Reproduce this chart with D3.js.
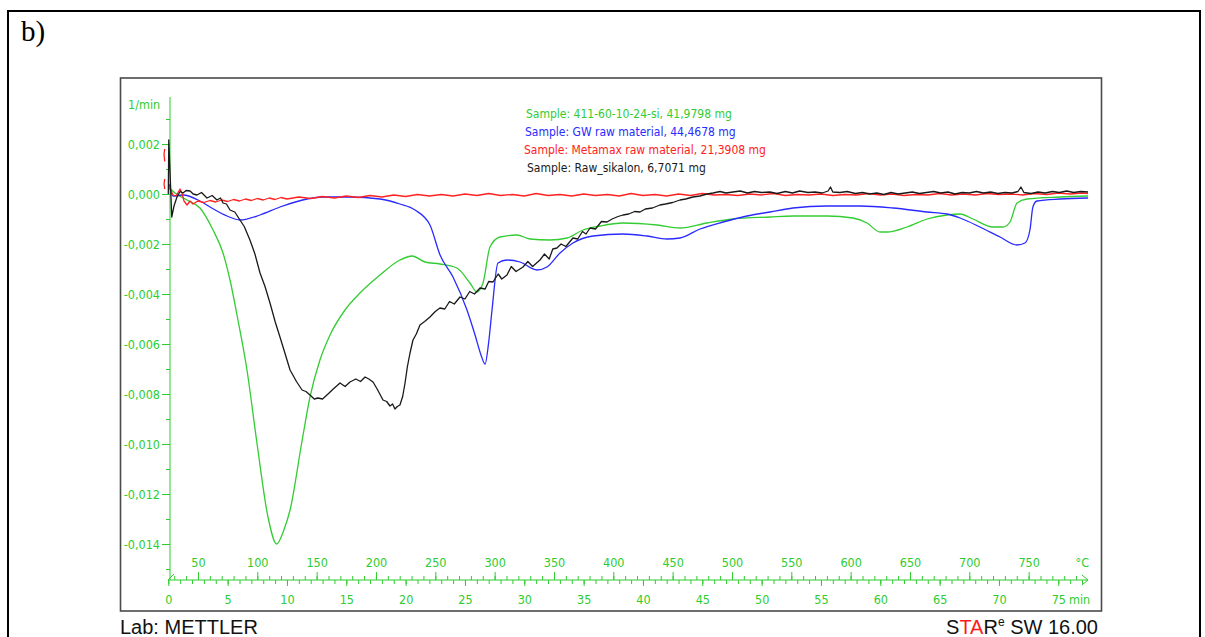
<!DOCTYPE html>
<html>
<head>
<meta charset="utf-8">
<script src="https://cdn.jsdelivr.net/npm/d3@7"></script>
<style>
  body { margin: 0; background: #fff; }
  .tick text { font-family: "DejaVu Sans Condensed", "DejaVu Sans"; font-stretch: condensed; }
</style>
</head>
<body>
<div id="canvas"></div>
<script>
"use strict"

/* Configuration variables: drawing */
let svgWidth = 1205;
let svgHeight = 637;
let axisGreen = "#2ecc2e";
let smallFont = "'DejaVu Sans Condensed', 'DejaVu Sans'";

/* Data: [time in min, DTG signal in 1/min] */
let greenSeries = [
    [0, 0.0003], [0.56, 0.00004], [1.58, -0.00024], [2.67, -0.00056], [3.77, -0.00144], [4.61, -0.00236],
    [5.20, -0.00344], [5.87, -0.00504], [6.63, -0.00704], [7.47, -0.00996], [8.40, -0.01292], [9.13, -0.0140],
    [9.74, -0.01344], [10.26, -0.01264], [11.24, -0.00996], [11.94, -0.00812], [12.78, -0.00664], [13.63, -0.00564],
    [14.89, -0.00464], [16.15, -0.00396], [17.84, -0.00324], [19.52, -0.00264], [20.54, -0.00248], [21.63, -0.00272],
    [22.89, -0.0028], [24.32, -0.00296], [25.42, -0.00356], [26.01, -0.00392], [26.52, -0.00356], [27.11, -0.00212],
    [27.95, -0.00172], [29.38, -0.00164], [30.48, -0.0018], [32.16, -0.00184], [33.60, -0.00176], [34.94, -0.00144],
    [36.38, -0.00128], [38.32, -0.00116], [41.18, -0.00124], [43.12, -0.00136], [45.40, -0.00116], [47.58, -0.001],
    [50.70, -0.00092], [52.64, -0.00088], [55.51, -0.00088], [57.70, -0.00096], [58.88, -0.00116], [59.98, -0.00152],
    [60.57, -0.00152], [62.25, -0.00132], [63.94, -0.001], [65.62, -0.00084], [66.72, -0.0008], [67.81, -0.001],
    [69.50, -0.00132], [70.34, -0.00132], [70.93, -0.00112], [71.52, -0.00036], [72.36, -0.0002], [75.14, -0.00012],
    [77.51, -0.00008]
];

let blueSeries = [
    [0.06, 0.0004], [0.40, -0.00008], [1.24, -0.00004], [2.67, -0.00028], [3.52, -0.00052], [4.95, -0.00088],
    [6.04, -0.00104], [7.73, -0.00084], [9.41, -0.00052], [11.69, -0.0002], [13.04, -0.00012], [15.31, -0.00012],
    [17.84, -0.0002], [19.52, -0.0004], [20.79, -0.00064], [22.05, -0.00124], [22.90, -0.00244], [23.99, -0.00332],
    [25.17, -0.00464], [25.85, -0.00564], [26.35, -0.00644], [26.69, -0.0068], [27.02, -0.00584], [27.28, -0.00464],
    [27.78, -0.00276], [28.54, -0.00264], [29.64, -0.00272], [31.07, -0.00304], [31.91, -0.00292], [33.01, -0.00236],
    [34.10, -0.00196], [35.79, -0.00168], [38.32, -0.0016], [40.34, -0.00168], [42.02, -0.0018], [43.12, -0.00176],
    [44.81, -0.0014], [46.75, -0.00112], [48.76, -0.00088], [50.70, -0.00072], [52.64, -0.00056], [55.51, -0.00048],
    [58.29, -0.00048], [61.07, -0.00056], [63.94, -0.00072], [65.62, -0.0008], [66.72, -0.00096], [68.40, -0.00132],
    [70.09, -0.00172], [71.52, -0.00204], [72.19, -0.00196], [72.61, -0.00144], [72.86, -0.00052], [73.20, -0.00028],
    [75.14, -0.0002], [77.51, -0.00016]
];

let redSeries = [
    [-0.30, 0.0018], [-0.36, 0.0016], [-0.30, 0.0013], null,
    [-0.30, 0.0006], [-0.36, 0.0004], [-0.30, 0.0002], null,
    [0.05, 0.0003], [0.40, -0.00004], [0.65, -0.00008], [0.99, 0.0002], [1.15, 0.00004], [1.32, -0.00028],
    [1.58, -0.00044], [1.83, -0.00028], [2.08, -0.0004], [2.5, -0.00028], [3, -0.00034], [3.5, -0.00026],
    [4, -0.00032], [4.5, -0.00024], [5, -0.0003], [5.5, -0.00022], [6, -0.00028], [6.5, -0.0002], [7, -0.00026],
    [7.5, -0.00018], [8, -0.00024], [8.5, -0.00016], [9, -0.00022], [9.5, -0.00014], [10, -0.0002], [11, -0.00012],
    [12, -0.00018], [13, -0.0001], [14, -0.00016], [15, -0.00008], [16, -0.00014], [17, -0.00006], [18, -0.00012],
    [19, -0.00004], [20, -0.0001], [21, -0.00002], [22, -0.00008], [23, -0.00002], [24, -0.00008], [25, 0.0],
    [26, -0.00006], [27, 0.00002], [28, -0.00006], [29, -0.00002], [30, -0.00008], [31, 0.00002], [32, -0.00006],
    [33, -0.00002], [34, -0.00008], [35, 0.0], [36, -0.00006], [37, -0.00002], [38, -0.00008], [39, 0.00002],
    [40, -0.00006], [41, -0.00002], [42, -0.00008], [43, 0.0], [44, -0.00006], [45, 0.00002], [46, -0.00004],
    [47, -0.00002], [48, -0.00006], [49, 0.0], [50, -0.00004], [51, 0.00002], [52, -0.00006], [53, -0.00002],
    [54, -0.00004], [55, 0.0], [56, -0.00006], [57, -0.00002], [58, -0.00004], [59, 0.00002], [60, -0.00004],
    [61, 0.0], [62, -0.00006], [63, -0.00002], [64, -0.00004], [65, 0.00002], [66, -0.00004], [67, 0.0],
    [68, -0.00004], [69, 0.00002], [70, -0.00002], [71, 0.0], [72, -0.00004], [73, 0.00002], [74, -0.00002],
    [75, 0.00004], [76, 0.0], [77, 0.00004], [77.5, 0.00002]
];

let blackSeries = [
    [0, 0], [0.04, 0.00216], [0.14, 0.00096], [0.29, -0.00092], [0.48, -0.00048], [0.73, -0.00012], [1.0, 0.0001],
    [1.24, 0.00004], [1.5, 0.00014], [1.83, 0.00012], [2.1, 0.0], [2.42, -0.00004], [2.8, 0.00006], [3.26, -0.00016],
    [3.7, -0.00006], [4.1, -0.00024], [4.4, -0.00016], [4.61, -0.00036], [4.9, -0.0004], [5.2, -0.00064],
    [5.6, -0.00072], [6.04, -0.00104], [6.4, -0.0013], [6.88, -0.00184], [7.3, -0.0024], [7.73, -0.00316],
    [8.15, -0.0037], [8.57, -0.00436], [9.0, -0.0051], [9.41, -0.00572], [9.85, -0.0064], [10.26, -0.00704],
    [10.8, -0.0075], [11.27, -0.00784], [11.6, -0.0079], [11.94, -0.00804], [12.3, -0.0082], [12.61, -0.00816],
    [13.0, -0.0082], [13.46, -0.008], [13.9, -0.0078], [14.47, -0.00756], [14.9, -0.0077], [15.31, -0.00752],
    [15.8, -0.0074], [16.2, -0.0075], [16.58, -0.00732], [16.9, -0.0074], [17.25, -0.00752], [17.6, -0.0078],
    [18.09, -0.00824], [18.4, -0.0083], [18.68, -0.00848], [18.9, -0.0084], [19.1, -0.0086], [19.3, -0.0085],
    [19.52, -0.00844], [19.75, -0.0081], [19.95, -0.00756], [20.15, -0.0069], [20.37, -0.00636], [20.62, -0.00584],
    [20.9, -0.0056], [21.21, -0.00524], [21.6, -0.0051], [22.05, -0.00492], [22.5, -0.0047], [22.89, -0.00456],
    [23.3, -0.0046], [23.7, -0.0043], [24.1, -0.0044], [24.58, -0.00412], [25.0, -0.0042], [25.4, -0.0039],
    [25.8, -0.004], [26.27, -0.00376], [26.7, -0.0038], [27.0, -0.0035], [27.36, -0.00352], [27.8, -0.0032],
    [28.1, -0.0034], [28.54, -0.00324], [28.9, -0.0029], [29.3, -0.0031], [29.89, -0.00292], [30.3, -0.0027],
    [30.7, -0.0029], [31.32, -0.00264], [31.7, -0.0024], [32.1, -0.0026], [32.4, -0.0022], [32.75, -0.00216],
    [33.1, -0.002], [33.5, -0.0021], [34.1, -0.00176], [34.5, -0.0018], [34.9, -0.0015], [35.2, -0.0016],
    [35.54, -0.00136], [36.0, -0.0014], [36.5, -0.0011], [36.97, -0.00112], [37.4, -0.001], [37.9, -0.0009],
    [38.32, -0.00084], [38.8, -0.0008], [39.3, -0.0007], [39.75, -0.00072], [40.2, -0.0006], [40.8, -0.00056],
    [41.43, -0.00044], [41.9, -0.0004], [42.5, -0.00034], [43.12, -0.00024], [43.6, -0.0002], [44.21, -0.00012],
    [44.8, -0.00008], [45.4, 0.0], [45.9, 0.00004], [46.5, 0.0001], [47.0, 0.00004], [47.58, 0.00008],
    [48.2, 0.00012], [48.8, 0.00004], [49.4, 0.0001], [50.0, 0.00006], [50.7, 0.00008], [51.3, 0.00002],
    [52.0, 0.0001], [52.6, 0.00004], [53.2, 0.00012], [53.9, 0.00006], [54.5, 0.00008], [55.1, 0.00004],
    [55.6, 0.00012], [55.8, 0.00028], [56.0, 0.00008], [56.6, 0.00006], [57.2, 0.0001], [57.9, 0.00002],
    [58.5, 0.00006], [59.1, 0.0], [59.7, 0.00004], [60.3, -0.00002], [60.9, 0.00006], [61.5, 0.0], [62.1, 0.00004],
    [62.7, 0.00008], [63.3, 0.00002], [63.9, 0.00006], [64.5, 0.0001], [65.1, 0.00004], [65.7, 0.00008],
    [66.3, 0.0], [66.9, 0.00006], [67.5, 0.00004], [68.1, 0.0001], [68.7, 0.00004], [69.3, 0.00008],
    [69.9, 0.00002], [70.5, 0.00006], [71.1, 0.00004], [71.6, 0.0001], [71.85, 0.00028], [72.1, 0.00006],
    [72.7, 0.00002], [73.3, 0.00008], [73.9, 0.00004], [74.5, 0.0001], [75.1, 0.00006], [75.7, 0.00012],
    [76.3, 0.00006], [76.9, 0.0001], [77.5, 0.00008]
];

let legendLabels = [
    "Sample: 411-60-10-24-si, 41,9798 mg",
    "Sample: GW raw material, 44,4678 mg",
    "Sample: Metamax raw material, 21,3908 mg",
    "Sample: Raw_sikalon, 6,7071 mg"
];
let seriesColors = ["#33cc33", "#2a2aff", "#ff2222", "#1a1a1a"];

/* Tick values */
let yMajorTicks = [0.002, 0, -0.002, -0.004, -0.006, -0.008, -0.010, -0.012, -0.014];
let yMinorTicks = [0.003, 0.001, -0.001, -0.003, -0.005, -0.007, -0.009, -0.011, -0.013, -0.015];
let minuteTicks = [0, 5, 10, 15, 20, 25, 30, 35, 40, 45, 50, 55, 60, 65, 70, 75];
let tempTicks = [50, 100, 150, 200, 250, 300, 350, 400, 450, 500, 550, 600, 650, 700, 750];

/* Create drawing canvas */
let svg = d3.select("#canvas")
    .append("svg")
    .attr("width", svgWidth)
    .attr("height", svgHeight);

/* Outer frame and the "b)" panel tag */
svg.append("rect")
    .attr("x", 8).attr("y", 11)
    .attr("width", 1192).attr("height", 660)
    .attr("fill", "none")
    .attr("stroke", "black")
    .attr("stroke-width", 2);

svg.append("text")
    .attr("x", 21).attr("y", 41)
    .attr("font-family", "'Liberation Serif', 'Times New Roman', serif")
    .attr("font-size", 29)
    .text("b)");

/* Inner chart box */
svg.append("rect")
    .attr("x", 120.5).attr("y", 78)
    .attr("width", 981).attr("height", 533)
    .attr("fill", "none")
    .attr("stroke", "#4a4a4a")
    .attr("stroke-width", 1.6);

/* Scales */
let xScale = d3.scaleLinear()
    .domain([0, 75])
    .range([168.3, 1058.3]);

let yScale = d3.scaleLinear()
    .domain([0, -0.014])
    .range([194, 544]);

/* temperature runs at 10 K/min from 25 °C */
let tempScale = d3.scaleLinear()
    .domain([25, 775])
    .range([168.3, 1058.3]);

function commaFormat(v) {
    let s = Math.abs(v).toFixed(3).replace(".", ",");
    return (v < -1e-9 ? "-" : "") + s;
}

/* Y axis */
let yMinorAxis = svg.append("g")
    .attr("transform", "translate(170,0)")
    .call(d3.axisLeft(yScale).tickValues(yMinorTicks).tickSize(4).tickFormat(""));

let yMajorAxis = svg.append("g")
    .attr("transform", "translate(170,0)")
    .call(d3.axisLeft(yScale).tickValues(yMajorTicks).tickSize(8).tickPadding(2).tickFormat(commaFormat));

[yMinorAxis, yMajorAxis].forEach(function (g) {
    g.select(".domain").remove();
    g.selectAll("line").attr("stroke", axisGreen);
    g.selectAll("text").attr("fill", axisGreen).attr("font-size", 12.5);
});

svg.append("line")
    .attr("x1", 170).attr("x2", 170)
    .attr("y1", 97).attr("y2", 580)
    .attr("stroke", axisGreen);

svg.append("text")
    .attr("x", 128).attr("y", 109)
    .attr("fill", axisGreen)
    .attr("font-family", smallFont)
    .attr("font-stretch", "condensed")
    .attr("font-size", 12.5)
    .text("1/min");

/* X axes: minutes below, temperature above */
let axisY = 580;
let minuteMinor = d3.range(0, 78, 1);
let tempMinor = d3.range(30, 800, 10);

let xMinorAxis = svg.append("g")
    .attr("transform", "translate(0," + axisY + ")")
    .call(d3.axisBottom(xScale).tickValues(minuteMinor).tickSize(4).tickFormat(""));

let xMajorAxis = svg.append("g")
    .attr("transform", "translate(0," + axisY + ")")
    .call(d3.axisBottom(xScale).tickValues(minuteTicks).tickSize(6).tickFormat(d3.format("d")));

let tMinorAxis = svg.append("g")
    .attr("transform", "translate(0," + axisY + ")")
    .call(d3.axisTop(tempScale).tickValues(tempMinor).tickSize(4).tickFormat(""));

let tMajorAxis = svg.append("g")
    .attr("transform", "translate(0," + axisY + ")")
    .call(d3.axisTop(tempScale).tickValues(tempTicks).tickSize(8).tickFormat(d3.format("d")));

[xMinorAxis, xMajorAxis, tMinorAxis, tMajorAxis].forEach(function (g) {
    g.select(".domain").remove();
    g.selectAll("line").attr("stroke", axisGreen);
    g.selectAll("text").attr("fill", axisGreen).attr("font-size", 12.5);
});
xMajorAxis.selectAll("text").attr("y", 15);
tMajorAxis.selectAll("text").attr("y", -13);

svg.append("line")
    .attr("x1", 168).attr("x2", 1088)
    .attr("y1", axisY).attr("y2", axisY)
    .attr("stroke", axisGreen);

/* small arrow heads at both ends of the time axis */
svg.append("path")
    .attr("d", "M1082,575 L1088,580 L1082,585")
    .attr("fill", "none")
    .attr("stroke", axisGreen);
svg.append("path")
    .attr("d", "M174,574 L168,580")
    .attr("fill", "none")
    .attr("stroke", axisGreen);

svg.append("text")
    .attr("x", 1069).attr("y", 604)
    .attr("fill", axisGreen)
    .attr("font-family", smallFont)
    .attr("font-stretch", "condensed")
    .attr("font-size", 12.5)
    .text("min");

svg.append("text")
    .attr("x", 1089).attr("y", 567)
    .attr("text-anchor", "end")
    .attr("fill", axisGreen)
    .attr("font-family", smallFont)
    .attr("font-stretch", "condensed")
    .attr("font-size", 12.5)
    .text("°C");

/* Curves: smooth instrument traces for green/blue, raw noisy ones for red/black */
let smoothLine = d3.line()
    .curve(d3.curveMonotoneX)
    .x(function (d) { return xScale(d[0]); })
    .y(function (d) { return yScale(d[1]); });

let rawLine = d3.line()
    .defined(function (d) { return d !== null; })
    .x(function (d) { return xScale(d[0]); })
    .y(function (d) { return yScale(d[1]); });

let allSeries = [greenSeries, blueSeries, redSeries, blackSeries];

svg.selectAll("path.curve")
    .data(allSeries)
    .join("path")
    .attr("class", "curve")
    .attr("d", function (d, i) { return i < 2 ? smoothLine(d) : rawLine(d); })
    .attr("fill", "none")
    .attr("stroke", function (d, i) { return seriesColors[i]; })
    .attr("stroke-width", 1.3)
    .attr("stroke-linejoin", "round");

/* Legend */
let legendBaselines = [118, 136, 154, 172];
let legendX = [526, 525, 524, 527];

svg.selectAll("text.legend")
    .data(legendLabels)
    .join("text")
    .attr("class", "legend")
    .attr("x", function (d, i) { return legendX[i]; })
    .attr("y", function (d, i) { return legendBaselines[i]; })
    .attr("fill", function (d, i) { return seriesColors[i]; })
    .attr("font-family", smallFont)
    .attr("font-stretch", "condensed")
    .attr("font-size", 12)
    .text(function (d) { return d; });

/* Footer */
svg.append("text")
    .attr("x", 120).attr("y", 634)
    .attr("font-family", "'Liberation Sans', Arial, sans-serif")
    .attr("font-size", 20)
    .attr("fill", "#111")
    .text("Lab: METTLER");

let star = svg.append("text")
    .attr("x", 1098).attr("y", 634)
    .attr("text-anchor", "end")
    .attr("font-family", "'Liberation Sans', Arial, sans-serif")
    .attr("font-size", 20)
    .attr("fill", "#111");
star.append("tspan").text("S");
star.append("tspan").attr("fill", "#ff1a1a").text("TA");
star.append("tspan").text("R");
star.append("tspan").attr("font-size", 12).attr("dy", -8).text("e");
star.append("tspan").attr("dy", 8).text(" SW 16.00");
</script>
</body>
</html>
